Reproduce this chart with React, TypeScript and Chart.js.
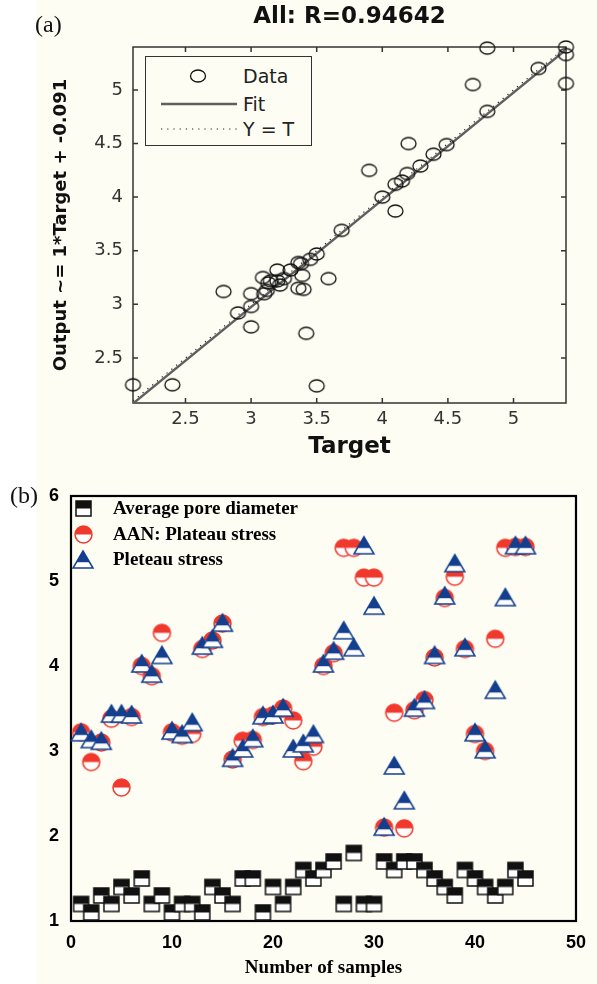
import React, { useEffect, useRef } from 'react';
import { Chart, registerables } from 'chart.js';

Chart.register(...registerables);

// ---------------- (a) regression panel ----------------
const TITLE_A = 'All: R=0.94642';
const X_LABEL_A = 'Target';
const Y_LABEL_A = 'Output ~= 1*Target + -0.091';
const LEGEND_A = ['Data', 'Fit', 'Y = T'];
const X_RANGE_A = [2.1, 5.4];
const Y_RANGE_A = [2.08, 5.4];
const TICK_STEP_A = 0.5;
const TARGET = [2.1, 2.4, 2.79, 2.9, 3.0, 3.0, 3.0, 3.09, 3.1, 3.12, 3.13, 3.15, 3.2, 3.2, 3.22, 3.25, 3.3, 3.36, 3.36, 3.38, 3.39, 3.4, 3.42, 3.45, 3.5, 3.5, 3.59, 3.69, 3.9, 4.0, 4.1, 4.1, 4.15, 4.19, 4.2, 4.29, 4.39, 4.49, 4.69, 4.8, 4.8, 5.19, 5.4, 5.4, 5.4];
const OUTPUT = [2.25, 2.25, 3.12, 2.92, 2.98, 3.1, 2.79, 3.25, 3.1, 3.13, 3.2, 3.22, 3.32, 3.22, 3.18, 3.24, 3.32, 3.39, 3.15, 3.38, 3.27, 3.14, 2.73, 3.42, 3.47, 2.24, 3.24, 3.69, 4.25, 4.0, 3.87, 4.12, 4.15, 4.22, 4.5, 4.29, 4.4, 4.49, 5.05, 4.8, 5.39, 5.2, 5.4, 5.33, 5.06];
const FIT_X = [2.1, 5.4];
const FIT_SLOPE = 1;
const FIT_INTERCEPT = -0.025;

// ---------------- (b) samples panel ----------------
const X_LABEL_B = 'Number of samples';
const LEGEND_B = ['Average pore diameter', 'AAN: Plateau stress', 'Pleteau stress'];
const SAMPLES = [1, 2, 3, 4, 5, 6, 7, 8, 9, 10, 11, 12, 13, 14, 15, 16, 17, 18, 19, 20, 21, 22, 23, 24, 25, 26, 27, 28, 29, 30, 31, 32, 33, 34, 35, 36, 37, 38, 39, 40, 41, 42, 43, 44, 45];
const PORE = [1.2, 1.1, 1.3, 1.2, 1.4, 1.3, 1.5, 1.2, 1.3, 1.1, 1.2, 1.2, 1.1, 1.4, 1.3, 1.2, 1.5, 1.5, 1.1, 1.4, 1.2, 1.4, 1.6, 1.5, 1.6, 1.7, 1.2, 1.8, 1.2, 1.2, 1.7, 1.6, 1.7, 1.7, 1.6, 1.5, 1.4, 1.3, 1.6, 1.5, 1.4, 1.3, 1.4, 1.6, 1.5];
const AAN = [3.22, 2.87, 3.1, 3.38, 2.57, 3.4, 4.0, 3.88, 4.39, 3.22, 3.18, 3.2, 4.2, 4.3, 4.5, 2.9, 3.12, 3.13, 3.4, 3.42, 3.5, 3.36, 2.88, 3.05, 4.0, 4.15, 5.39, 5.39, 5.04, 5.04, 2.1, 3.45, 2.09, 3.48, 3.6, 4.1, 4.8, 5.05, 4.2, 3.2, 3.0, 4.32, 5.39, 5.4, 5.4];
const PLATEAU = [3.22, 3.14, 3.12, 3.44, 3.44, 3.43, 4.03, 3.91, 4.13, 3.24, 3.2, 3.34, 4.24, 4.32, 4.51, 2.92, 3.03, 3.15, 3.42, 3.43, 3.51, 3.03, 3.09, 3.2, 4.03, 4.18, 4.42, 4.22, 5.42, 4.71, 2.11, 2.83, 2.42, 3.51, 3.6, 4.13, 4.83, 5.21, 4.22, 3.22, 3.02, 3.72, 4.81, 5.42, 5.42];
const X_RANGE_B = [0, 50];
const Y_RANGE_B = [1, 6];
const X_STEP_B = 10;
const Y_STEP_B = 1;

const CREAM = '#fdfdf3';
const RED = '#f0392c';
const BLUE = '#133f8e';
const BLACK = '#111111';

type Shape = 'square' | 'circle' | 'triangle' | 'ellipse';

function makeMarker(shape: Shape, color: string, w: number, h: number, lw: number, frac: number): HTMLCanvasElement {
  const c = document.createElement('canvas');
  const pad = 2;
  c.width = Math.ceil(w + pad * 2);
  c.height = Math.ceil(h + pad * 2);
  const ctx = c.getContext('2d') as CanvasRenderingContext2D;
  ctx.translate(pad, pad);
  const path = () => {
    ctx.beginPath();
    if (shape === 'square') ctx.rect(0, 0, w, h);
    else if (shape === 'circle' || shape === 'ellipse') ctx.ellipse(w / 2, h / 2, w / 2, h / 2, 0, 0, Math.PI * 2);
    else {
      ctx.moveTo(w / 2, 0);
      ctx.lineTo(w, h);
      ctx.lineTo(0, h);
      ctx.closePath();
    }
  };
  if (frac > 0) {
    path();
    ctx.fillStyle = '#ffffff';
    ctx.fill();
    ctx.save();
    path();
    ctx.clip();
    ctx.fillStyle = color;
    ctx.fillRect(0, 0, w, h * frac);
    ctx.restore();
  }
  path();
  ctx.strokeStyle = color;
  ctx.lineWidth = lw;
  ctx.stroke();
  return c;
}

const fmt = (v: any) => String(Number(Number(v).toFixed(2)));

const frameA = {
  id: 'frameA',
  beforeDatasetsDraw(chart: any) {
    const { ctx, chartArea, scales } = chart;
    const { left, top, right, bottom } = chartArea;
    ctx.save();
    ctx.strokeStyle = '#333';
    ctx.lineWidth = 1.5;
    ctx.strokeRect(left, top, right - left, bottom - top);
    const L = 5;
    ctx.beginPath();
    scales.x.ticks.forEach((t: any) => {
      const px = scales.x.getPixelForValue(t.value);
      ctx.moveTo(px, bottom);
      ctx.lineTo(px, bottom - L);
      ctx.moveTo(px, top);
      ctx.lineTo(px, top + L);
    });
    scales.y.ticks.forEach((t: any) => {
      const py = scales.y.getPixelForValue(t.value);
      ctx.moveTo(left, py);
      ctx.lineTo(left + L, py);
      ctx.moveTo(right, py);
      ctx.lineTo(right - L, py);
    });
    ctx.stroke();
    ctx.restore();
  },
};

const frameB = {
  id: 'frameB',
  beforeDatasetsDraw(chart: any) {
    const { ctx, chartArea } = chart;
    const { left, top, right, bottom } = chartArea;
    ctx.save();
    ctx.strokeStyle = '#000';
    ctx.lineWidth = 2.2;
    ctx.strokeRect(left, top, right - left, bottom - top);
    ctx.restore();
  },
};

export default function App() {
  const refA = useRef<HTMLCanvasElement>(null);
  const refB = useRef<HTMLCanvasElement>(null);
  const markers = useRef<any>(null);
  if (!markers.current) {
    markers.current = {
      ell: makeMarker('ellipse', '#111', 15, 12, 1.3, 0),
      sq: makeMarker('square', BLACK, 15, 15, 1.5, 0.5),
      ci: makeMarker('circle', RED, 17, 17, 1.5, 0.5),
      tr: makeMarker('triangle', BLUE, 20, 17, 1.5, 0.66),
    };
  }

  useEffect(() => {
    const m = markers.current;
    const sans = 'DejaVu Sans';
    const chartA = new Chart(refA.current as HTMLCanvasElement, {
      type: 'scatter',
      data: {
        datasets: [
          {
            label: LEGEND_A[0],
            data: TARGET.map((t, i) => ({ x: t, y: OUTPUT[i] })),
            pointStyle: m.ell,
            pointRadius: 7,
            showLine: false,
            clip: false,
            order: 1,
          } as any,
          {
            label: LEGEND_A[1],
            data: FIT_X.map((x) => ({ x, y: FIT_SLOPE * x + FIT_INTERCEPT })),
            showLine: true,
            borderColor: '#5f5f5f',
            borderWidth: 2.4,
            pointRadius: 0,
            order: 2,
          },
          {
            label: LEGEND_A[2],
            data: FIT_X.map((x) => ({ x, y: x })),
            showLine: true,
            borderColor: '#222',
            borderWidth: 1.2,
            borderDash: [1.2, 5],
            pointRadius: 0,
            order: 3,
          },
        ],
      },
      options: {
        animation: false,
        responsive: false,
        layout: { padding: { left: 0, right: 31, top: 0, bottom: 0 } },
        plugins: {
          legend: { display: false },
          tooltip: { enabled: false },
          title: {
            display: true,
            text: TITLE_A,
            fullSize: false,
            color: '#111',
            font: { family: sans, size: 23, weight: 'bold' },
            padding: { top: 3, bottom: 16.4 },
          },
        },
        scales: {
          x: {
            type: 'linear',
            min: X_RANGE_A[0],
            max: X_RANGE_A[1],
            grid: { display: false, drawTicks: false },
            border: { display: false },
            ticks: { stepSize: TICK_STEP_A, includeBounds: false, color: '#333', font: { family: sans, size: 18 }, padding: 6, callback: fmt },
            title: { display: true, text: X_LABEL_A, color: '#111', font: { family: sans, size: 23, weight: 'bold' }, padding: { top: 0, bottom: 9 } },
            afterFit: (s: any) => { s.height = 67; },
          },
          y: {
            type: 'linear',
            min: Y_RANGE_A[0],
            max: Y_RANGE_A[1],
            grid: { display: false, drawTicks: false },
            border: { display: false },
            ticks: { stepSize: TICK_STEP_A, includeBounds: false, color: '#333', font: { family: sans, size: 18 }, padding: 10, callback: fmt },
            title: { display: true, text: Y_LABEL_A, color: '#111', font: { family: sans, size: 18, weight: 'bold' }, padding: { top: 51, bottom: 0 } },
            afterFit: (s: any) => { s.width = 133; },
          },
        },
      } as any,
      plugins: [frameA],
    });

    const chartB = new Chart(refB.current as HTMLCanvasElement, {
      type: 'scatter',
      data: {
        datasets: [
          {
            label: LEGEND_B[0],
            data: SAMPLES.map((n, i) => ({ x: n, y: PORE[i] })),
            pointStyle: m.sq,
            pointRadius: 8,
            clip: false,
            order: 3,
          } as any,
          {
            label: LEGEND_B[1],
            data: SAMPLES.map((n, i) => ({ x: n, y: AAN[i] })),
            pointStyle: m.ci,
            pointRadius: 8,
            clip: false,
            order: 2,
          },
          {
            label: LEGEND_B[2],
            data: SAMPLES.map((n, i) => ({ x: n, y: PLATEAU[i] })),
            pointStyle: m.tr,
            pointRadius: 9,
            clip: false,
            order: 1,
          },
        ],
      },
      options: {
        animation: false,
        responsive: false,
        layout: { padding: { left: 0, right: 15, top: 26, bottom: 0 } },
        plugins: { legend: { display: false }, tooltip: { enabled: false } },
        scales: {
          x: {
            type: 'linear',
            min: X_RANGE_B[0],
            max: X_RANGE_B[1],
            grid: { display: false, drawTicks: false },
            border: { display: false },
            ticks: { stepSize: X_STEP_B, color: '#000', font: { family: 'Liberation Sans', size: 18, weight: 'bold' }, padding: 11, callback: fmt },
            title: { display: true, text: X_LABEL_B, color: '#000', font: { family: 'Liberation Serif', size: 19, weight: 'bold' }, padding: { top: 0, bottom: 5 } },
            afterFit: (s: any) => { s.height = 63; },
          },
          y: {
            type: 'linear',
            min: Y_RANGE_B[0],
            max: Y_RANGE_B[1],
            grid: { display: false, drawTicks: false },
            border: { display: false },
            ticks: { stepSize: Y_STEP_B, color: '#000', font: { family: 'Liberation Sans', size: 18, weight: 'bold' }, padding: 12, callback: fmt },
            afterFit: (s: any) => { s.width = 71; },
          },
        },
      } as any,
      plugins: [frameB],
    });

    return () => {
      chartA.destroy();
      chartB.destroy();
    };
  }, []);

  const m = markers.current;
  const legendBMarkers = [m.sq, m.ci, m.tr];
  const legendBRows = [508, 534, 559];
  const legendARows = [19, 47, 72];

  return (
    <div style={{ position: 'fixed', left: 0, top: 0, width: 597, height: 984, background: '#ffffff', overflow: 'hidden' }}>
      <div style={{ position: 'absolute', left: 36, top: 0, right: 0, bottom: 0, background: CREAM }} />
      <canvas ref={refA} width={597} height={470} style={{ position: 'absolute', left: 0, top: 0 }} />
      <canvas ref={refB} width={597} height={514} style={{ position: 'absolute', left: 0, top: 470 }} />
      <span style={{ position: 'absolute', left: 35, top: 10, fontFamily: 'Liberation Serif', fontSize: 24, lineHeight: '28px', color: '#111' }}>(a)</span>
      <span style={{ position: 'absolute', left: 10, top: 481, fontFamily: 'Liberation Serif', fontSize: 24, lineHeight: '28px', color: '#111' }}>(b)</span>

      <div style={{ position: 'absolute', left: 145, top: 56, width: 167, height: 90, border: '1.5px solid #333', boxSizing: 'border-box', background: CREAM, fontFamily: 'DejaVu Sans', fontSize: 19, color: '#222' }}>
        {LEGEND_A.map((label, i) => (
          <div key={label} style={{ position: 'absolute', left: 0, top: legendARows[i] - 12, height: 24, width: '100%' }}>
            <svg width={78} height={24} style={{ position: 'absolute', left: 14, top: 0 }}>
              {i === 0 && <ellipse cx={38} cy={12} rx={7.5} ry={6} fill="none" stroke="#111" strokeWidth={1.3} />}
              {i === 1 && <line x1={1} y1={12} x2={77} y2={12} stroke="#5f5f5f" strokeWidth={2.4} />}
              {i === 2 && <line x1={1} y1={12} x2={77} y2={12} stroke="#222" strokeWidth={1.2} strokeDasharray="1.2 5" />}
            </svg>
            <span style={{ position: 'absolute', left: 97, top: 0, lineHeight: '24px', whiteSpace: 'nowrap' }}>{label}</span>
          </div>
        ))}
      </div>

      {LEGEND_B.map((label, i) => (
        <div key={label} style={{ position: 'absolute', left: 60, top: legendBRows[i] - 13, height: 26, width: 300 }}>
          <img src={legendBMarkers[i].toDataURL()} style={{ position: 'absolute', left: 23 - legendBMarkers[i].width / 2, top: 13 - legendBMarkers[i].height / 2 }} />
          <span style={{ position: 'absolute', left: 53, top: 0, lineHeight: '26px', whiteSpace: 'nowrap', fontFamily: 'Liberation Serif', fontWeight: 'bold', fontSize: 19, color: '#000' }}>{label}</span>
        </div>
      ))}
    </div>
  );
}
